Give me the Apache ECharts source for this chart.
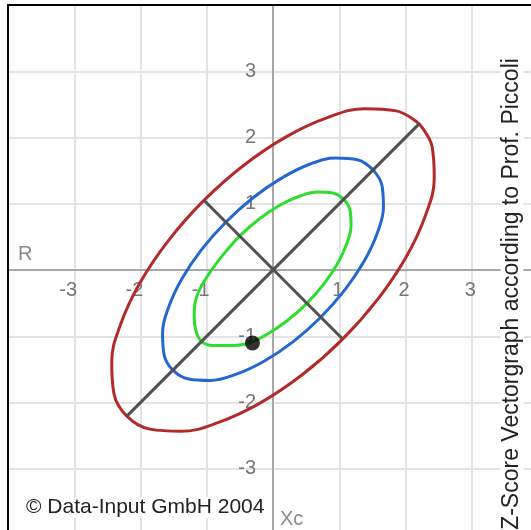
<!DOCTYPE html>
<html>
<head>
<meta charset="utf-8">
<script src="https://cdn.jsdelivr.net/npm/echarts@6/dist/echarts.min.js"></script>
<style>
html,body{margin:0;padding:0;background:#fff;}
#chart{width:531px;height:530px;}
</style>
</head>
<body>
<div id="chart"></div>
<script>
// Tick values and labels
const xTickValues = [-3, -2, -1, 1, 2, 3];
const xTickLabels = ['-3', '-2', '-1', '1', '2', '3'];
const yTickValues = [-3, -2, -1, 1, 2, 3];
const yTickLabels = ['-3', '-2', '-1', '1', '2', '3'];

// Tolerance ellipses ([R, Xc])
const ellipse95 = [
  [2.206, 2.206], [1.860, 2.402], [1.387, 2.434], [0.820, 2.300], [0.197, 2.010], [-0.440, 1.582],
  [-1.047, 1.047], [-1.582, 0.440], [-2.010, -0.197], [-2.300, -0.820], [-2.434, -1.387], [-2.402, -1.860],
  [-2.206, -2.206], [-1.860, -2.402], [-1.387, -2.434], [-0.820, -2.300], [-0.197, -2.010], [0.440, -1.582],
  [1.047, -1.047], [1.582, -0.440], [2.010, 0.197], [2.300, 0.820], [2.434, 1.387], [2.402, 1.860],
  [2.206, 2.206]
];
const ellipse75 = [
  [1.511, 1.511], [1.274, 1.665], [0.950, 1.690], [0.562, 1.600], [0.135, 1.390], [-0.301, 1.090],
  [-0.717, 0.717], [-1.084, 0.301], [-1.377, -0.135], [-1.576, -0.562], [-1.667, -0.950], [-1.645, -1.274],
  [-1.511, -1.511], [-1.274, -1.645], [-0.950, -1.667], [-0.562, -1.576], [-0.135, -1.377], [0.301, -1.084],
  [0.717, -0.717], [1.084, -0.301], [1.377, 0.135], [1.576, 0.562], [1.667, 0.950], [1.645, 1.274],
  [1.511, 1.511]
];
const ellipse50 = [
  [1.068, 1.068], [0.900, 1.163], [0.671, 1.178], [0.397, 1.113], [0.095, 0.973], [-0.213, 0.766],
  [-0.507, 0.507], [-0.766, 0.213], [-0.990, -0.095], [-1.150, -0.397], [-1.190, -0.671], [-1.163, -0.920],
  [-1.068, -1.090], [-0.900, -1.140], [-0.671, -1.140], [-0.397, -1.113], [-0.095, -0.973], [0.213, -0.766],
  [0.507, -0.507], [0.766, -0.213], [0.973, 0.095], [1.113, 0.397], [1.178, 0.671], [1.163, 0.900],
  [1.068, 1.068]
];
// Major and minor axes of the ellipses
const majorAxis = [[-2.206, -2.206], [2.206, 2.206]];
const minorAxis = [[-1.05, 1.06], [1.04, -1.03]];
// Measured vector point
const measurement = [[-0.31, -1.10]];

const FONT = '"Liberation Sans", Arial, sans-serif';
const GRID_SIZE = 530;

function xLabel(v) {
  const i = xTickValues.indexOf(v);
  if (i < 0) return '';
  return v < 0 ? '{neg|' + xTickLabels[i] + '}' : '{pos|' + xTickLabels[i] + '}';
}
function yLabel(v) {
  const i = yTickValues.indexOf(v);
  return i < 0 ? '' : yTickLabels[i];
}

const chart = echarts.init(document.getElementById('chart'), null, {renderer: 'canvas'});
chart.setOption({
  animation: false,
  backgroundColor: '#fff',
  grid: {
    left: 8, top: 5, width: GRID_SIZE, height: GRID_SIZE,
    containLabel: false, outerBoundsMode: 'none',
    show: true, borderColor: '#000', borderWidth: 2, backgroundColor: '#fff'
  },
  xAxis: {
    type: 'value', min: -4, max: 4, interval: 1,
    position: 'bottom', offset: -GRID_SIZE / 2,
    axisLine: {onZero: false, lineStyle: {color: '#a8a8a8', width: 2}},
    axisTick: {show: false},
    splitLine: {show: true, showMinLine: false, showMaxLine: false, lineStyle: {color: '#e3e3e3', width: 2}},
    axisLabel: {
      formatter: xLabel, margin: 10, color: '#777', fontSize: 20, fontFamily: FONT,
      rich: {
        neg: {color: '#777', fontSize: 20, fontFamily: FONT, padding: [0, 12, 0, 0]},
        pos: {color: '#777', fontSize: 20, fontFamily: FONT, padding: [0, 3, 0, 0]}
      }
    }
  },
  yAxis: {
    type: 'value', min: -4, max: 4, interval: 1,
    position: 'left', offset: -GRID_SIZE / 2,
    axisLine: {onZero: false, lineStyle: {color: '#a8a8a8', width: 2}},
    axisTick: {show: false},
    splitLine: {show: true, showMinLine: false, showMaxLine: false, lineStyle: {color: '#e3e3e3', width: 2}},
    axisLabel: {
      formatter: yLabel, margin: 17, color: '#777', fontSize: 20, fontFamily: FONT
    }
  },
  series: [
    {type: 'line', data: ellipse95, smooth: 0.4, showSymbol: false, lineStyle: {color: '#b22b2b', width: 3}, z: 3},
    {type: 'line', data: ellipse75, smooth: 0.4, showSymbol: false, lineStyle: {color: '#2468cf', width: 3}, z: 3},
    {type: 'line', data: ellipse50, smooth: 0.4, showSymbol: false, lineStyle: {color: '#2fdd2f', width: 3}, z: 3},
    {type: 'line', data: majorAxis, showSymbol: false, lineStyle: {color: '#505050', width: 3}, z: 4},
    {type: 'line', data: minorAxis, showSymbol: false, lineStyle: {color: '#505050', width: 3}, z: 4},
    {type: 'scatter', data: measurement, symbol: 'circle', symbolSize: 15, itemStyle: {color: '#000'}, z: 5}
  ],
  graphic: [
    {type: 'rect', z: 100, silent: true, shape: {x: 8, y: 5, width: 540, height: 540},
      style: {fill: 'none', stroke: '#000', lineWidth: 2}},
    {type: 'text', z: 50, left: 18, top: 244, style: {text: 'R', fill: '#8a8a8a', font: '20px ' + FONT}},
    {type: 'text', z: 50, left: 280, top: 509, style: {text: 'Xc', fill: '#8a8a8a', font: '20px ' + FONT}},
    {type: 'text', z: 50, left: 26, top: 497,
      style: {text: '\u00A9 Data-Input GmbH 2004', fill: '#222', font: '21px ' + FONT, backgroundColor: '#fff'}},
    {type: 'text', z: 50, x: 512, y: 294, rotation: Math.PI / 2,
      style: {text: 'Z-Score Vectorgraph according to Prof. Piccoli', fill: '#222', font: '23px ' + FONT,
        textAlign: 'center', textVerticalAlign: 'middle', backgroundColor: '#fff'}}
  ]
});
</script>
</body>
</html>
